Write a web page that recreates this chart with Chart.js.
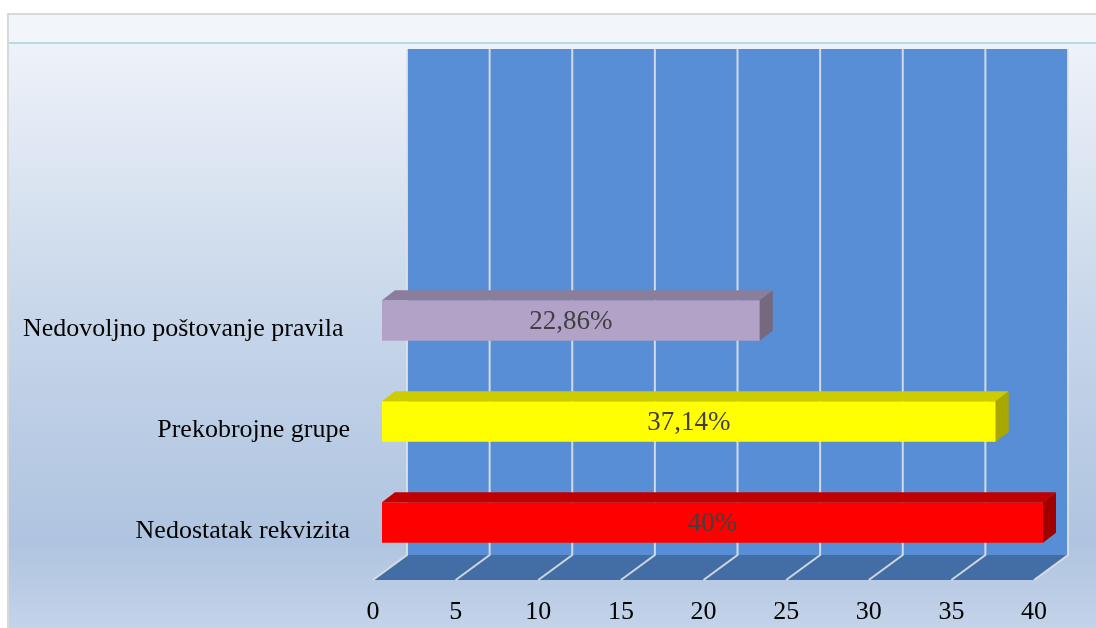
<!DOCTYPE html>
<html>
<head>
<meta charset="utf-8">
<script src="https://cdn.jsdelivr.net/npm/chart.js@4.4.1/dist/chart.umd.min.js"></script>
<style>
  body { margin: 0; background: #fff; }
  #myChart { display: block; }
</style>
</head>
<body>
<canvas id="myChart" width="1096" height="628"></canvas>
<script>
const categories = ['Nedovoljno poštovanje pravila ', 'Prekobrojne grupe', 'Nedostatak rekvizita'];
const values = [22.86, 37.14, 40];
const frontColors = ['#b3a2c7', '#ffff00', '#ff0000'];
const topColors = ['#8a7e9c', '#cccc00', '#c00000'];
const sideColors = ['#74697f', '#a8a800', '#a00000'];
const xMin = 0, xMax = 40, xStep = 5;

const serif = "'Liberation Serif', 'Times New Roman', serif";

// 3d look: wall behind the bars, floor below them
const DEPTH_BACK = 25;   // wall is shifted this many px right of the bar scale
const DEPTH_FRONT = -9;  // floor front edge shifted left
const WALL_TOP = 49;
const BAR_DX = 13, BAR_DY = 10;

const backdrop = {
  id: 'backdrop',
  beforeDraw(chart) {
    const c = chart.ctx;
    const area = chart.chartArea;
    const xs = chart.scales.x;
    const W = chart.width, H = chart.height;
    c.save();
    c.fillStyle = '#ffffff';
    c.fillRect(0, 0, W, H);

    // panel background
    const g = c.createLinearGradient(0, 44, 0, H);
    g.addColorStop(0, '#eef2f9');
    g.addColorStop(0.45, '#c8d7ea');
    g.addColorStop(0.85, '#afc4e0');
    g.addColorStop(1, '#c3d3e9');
    c.fillStyle = g;
    c.fillRect(9, 44, W, H);
    c.fillStyle = '#f2f5fa';
    c.fillRect(9, 15, W, 28);
    c.fillStyle = '#b5dce6';
    c.fillRect(9, 42, W, 2);
    c.strokeStyle = '#d9d9d9';
    c.lineWidth = 2;
    c.beginPath();
    c.moveTo(8, H);
    c.lineTo(8, 14);
    c.lineTo(W, 14);
    c.stroke();

    const backY = area.bottom - 18;
    const frontY = area.bottom + 7;
    const bx0 = xs.getPixelForValue(xMin) + DEPTH_BACK;
    const bx1 = xs.getPixelForValue(xMax) + DEPTH_BACK;
    const fx0 = xs.getPixelForValue(xMin) + DEPTH_FRONT;
    const fx1 = xs.getPixelForValue(xMax) + DEPTH_FRONT;

    // wall
    c.fillStyle = '#588ed6';
    c.fillRect(bx0, WALL_TOP, bx1 - bx0, backY - WALL_TOP);
    // floor
    c.fillStyle = '#436ea5';
    c.beginPath();
    c.moveTo(bx0, backY);
    c.lineTo(bx1, backY);
    c.lineTo(fx1, frontY);
    c.lineTo(fx0, frontY);
    c.closePath();
    c.fill();

    // grid lines
    c.strokeStyle = 'rgba(222,225,230,0.9)';
    c.lineWidth = 2;
    c.beginPath();
    for (let v = xMin; v <= xMax; v += xStep) {
      const b = xs.getPixelForValue(v) + DEPTH_BACK;
      const f = xs.getPixelForValue(v) + DEPTH_FRONT;
      c.moveTo(b, WALL_TOP);
      c.lineTo(b, backY);
      c.lineTo(f, frontY);
    }
    c.stroke();
    c.restore();
  },
  afterDatasetsDraw(chart) {
    const c = chart.ctx;
    const meta = chart.getDatasetMeta(0);
    c.save();
    meta.data.forEach((el, i) => {
      const top = el.y - el.height / 2;
      const bot = el.y + el.height / 2;
      const x0 = el.base, x1 = el.x;
      c.fillStyle = topColors[i];
      c.beginPath();
      c.moveTo(x0, top);
      c.lineTo(x0 + BAR_DX, top - BAR_DY);
      c.lineTo(x1 + BAR_DX, top - BAR_DY);
      c.lineTo(x1, top);
      c.closePath();
      c.fill();
      c.fillStyle = sideColors[i];
      c.beginPath();
      c.moveTo(x1, top);
      c.lineTo(x1 + BAR_DX, top - BAR_DY);
      c.lineTo(x1 + BAR_DX, bot - BAR_DY);
      c.lineTo(x1, bot);
      c.closePath();
      c.fill();

      c.fillStyle = '#404040';
      c.font = '27px ' + serif;
      c.textAlign = 'center';
      c.textBaseline = 'middle';
      const txt = String(values[i]).replace('.', ',') + '%';
      c.fillText(txt, (x0 + x1) / 2, el.y + 1);
    });
    c.restore();
  }
};

const ctx = document.getElementById('myChart');
new Chart(ctx, {
  type: 'bar',
  data: {
    labels: categories,
    datasets: [{
      data: values,
      backgroundColor: frontColors,
      borderWidth: 0,
      categoryPercentage: 1,
      barPercentage: 0.4
    }]
  },
  options: {
    indexAxis: 'y',
    responsive: false,
    animation: false,
    devicePixelRatio: 1,
    layout: { padding: { top: 270, right: 53, left: 0, bottom: 0 } },
    plugins: { legend: { display: false }, tooltip: { enabled: false } },
    scales: {
      x: {
        min: xMin,
        max: xMax,
        grid: { display: false, drawTicks: false },
        border: { display: false },
        ticks: {
          stepSize: xStep,
          color: '#000',
          font: { family: serif, size: 26 },
          padding: 24,
          labelOffset: DEPTH_FRONT,
          maxRotation: 0
        },
        afterFit(scale) { scale.height = 55; }
      },
      y: {
        grid: { display: false, drawTicks: false },
        border: { display: false },
        ticks: {
          color: '#000',
          font: { family: serif, size: 26 },
          padding: 32,
          labelOffset: 9
        },
        afterFit(scale) { scale.width = 382; }
      }
    }
  },
  plugins: [backdrop]
});
</script>
</body>
</html>
